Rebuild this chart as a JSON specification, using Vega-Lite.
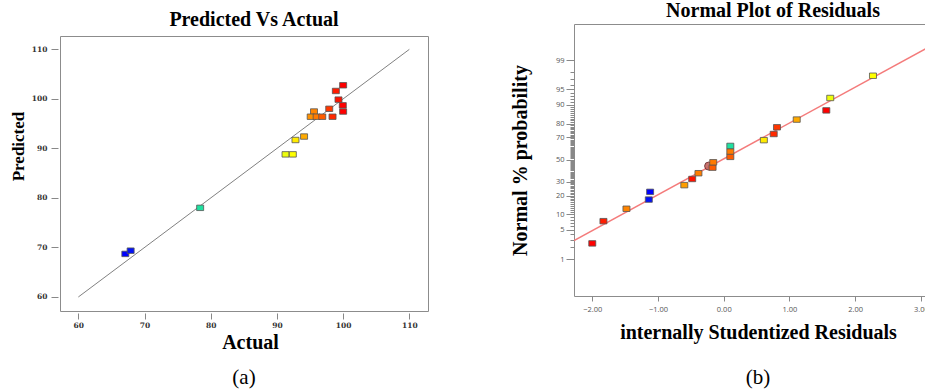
{
  "$schema": "https://vega.github.io/schema/vega-lite/v6.json",
  "background": "white",
  "padding": {"left": 8, "top": 0, "right": 0, "bottom": 0},
  "config": {
    "view": {"stroke": "#8c8c8c", "strokeWidth": 1},
    "axis": {"grid": false, "domain": false}
  },
  "spacing": 80,
  "hconcat": [
    {
      "spacing": 14,
      "vconcat": [
        {
          "spacing": 5,
          "vconcat": [
            {
              "width": 368,
              "height": 1,
              "view": {"stroke": null},
              "title": {"text": "Predicted Vs Actual", "font": "Liberation Serif", "fontSize": 20, "fontWeight": "bold", "color": "#000000", "offset": -6, "dx": 10},
              "data": {"values": []},
              "mark": {"type": "point", "opacity": 0},
              "encoding": {}
            },
            {
              "width": 368,
              "height": 275,
              "layer": [
                {
                  "data": {"values": [{"actual": 60, "predicted": 60}, {"actual": 110, "predicted": 110}]},
                  "mark": {"type": "line", "color": "#808080", "strokeWidth": 1},
                  "encoding": {
                    "x": {"field": "actual", "type": "quantitative", "scale": {"domain": [57.23, 112.82], "nice": false, "zero": false},
                      "axis": {"values": [60, 70, 80, 90, 100, 110], "title": "Actual", "titleFont": "Liberation Serif", "titleFontSize": 20, "titleFontWeight": "bold", "titleColor": "#000000", "titlePadding": 4, "titleX": 190, "labelFont": "DejaVu Serif", "labelFontWeight": "bold", "labelFontSize": 7.5, "labelColor": "#333333", "tickColor": "#888888", "tickSize": 6, "offset": 2, "labelPadding": 2}},
                    "y": {"field": "predicted", "type": "quantitative", "scale": {"domain": [57.17, 112.7], "nice": false, "zero": false},
                      "axis": {"values": [60, 70, 80, 90, 100, 110], "title": "Predicted", "titleFont": "Liberation Serif", "titleFontSize": 17, "titleFontWeight": "bold", "titleColor": "#000000", "titlePadding": 4, "titleY": 110, "labelFont": "DejaVu Serif", "labelFontWeight": "bold", "labelFontSize": 7.5, "labelColor": "#333333", "tickColor": "#888888", "tickSize": 7, "offset": 2, "labelPadding": 4}}
                  }
                },
                {
                  "data": {"values": [
                    {"actual": 67.1, "predicted": 68.7},
                    {"actual": 67.9, "predicted": 69.35},
                    {"actual": 78.4, "predicted": 78.0},
                    {"actual": 91.3, "predicted": 88.8},
                    {"actual": 92.4, "predicted": 88.8},
                    {"actual": 92.8, "predicted": 91.7},
                    {"actual": 94.1, "predicted": 92.4},
                    {"actual": 95.6, "predicted": 97.45},
                    {"actual": 95.1, "predicted": 96.4},
                    {"actual": 96.0, "predicted": 96.4},
                    {"actual": 96.85, "predicted": 96.4},
                    {"actual": 97.9, "predicted": 98.0},
                    {"actual": 98.4, "predicted": 96.4},
                    {"actual": 98.9, "predicted": 101.6},
                    {"actual": 99.3, "predicted": 99.85},
                    {"actual": 100.0, "predicted": 102.75},
                    {"actual": 99.95, "predicted": 98.7},
                    {"actual": 100.0, "predicted": 97.45}
                  ]},
                  "mark": {"type": "point", "shape": "M-1,-0.78H1V0.78H-1Z", "filled": true, "size": 49, "stroke": "#555555", "strokeWidth": 0.8, "opacity": 1},
                  "encoding": {
                    "x": {"field": "actual", "type": "quantitative"},
                    "y": {"field": "predicted", "type": "quantitative"},
                    "color": {"field": "actual", "type": "quantitative", "legend": null,
                      "scale": {"domain": [67, 78.4, 92.4, 94.1, 96, 98, 100], "range": ["#0000ff", "#20e0a0", "#ffff00", "#ffaa00", "#ff7a00", "#ff3300", "#ff0000"], "interpolate": "rgb"}}
                  }
                }
              ]
            }
          ]
        },
        {
          "width": 368,
          "height": 22,
          "view": {"stroke": null},
          "data": {"values": [{"label": "(a)"}]},
          "mark": {"type": "text", "font": "Liberation Serif", "fontSize": 21, "baseline": "middle", "color": "#000000"},
          "encoding": {"text": {"field": "label"}}
        }
      ]
    },
    {
      "spacing": 24,
      "vconcat": [
        {
          "width": 368,
          "height": 272,
          "title": {"text": "Normal Plot of Residuals", "font": "Liberation Serif", "fontSize": 20, "fontWeight": "bold", "color": "#000000", "offset": 3, "dx": 15},
          "resolve": {"axis": {"y": "independent"}},
          "layer": [
            {
              "data": {"values": [{"residual": -2.278, "z": -1.895}, {"residual": 3.32, "z": 2.801}]},
              "mark": {"type": "line", "color": "#f47b7b", "strokeWidth": 1.5, "clip": true},
              "encoding": {
                "x": {"field": "residual", "type": "quantitative", "scale": {"domain": [-2.278, 3.32], "nice": false, "zero": false},
                  "axis": {"values": [-2, -1, 0, 1, 2, 3], "format": ".2f", "title": "internally Studentized Residuals", "titleFont": "Liberation Serif", "titleFontSize": 20, "titleFontWeight": "bold", "titleColor": "#000000", "titlePadding": 10, "labelFont": "Open Sans", "labelFontSize": 7.5, "labelColor": "#555555", "tickColor": "#888888", "tickSize": 5, "labelPadding": 4}},
                "y": {"field": "z", "type": "quantitative", "scale": {"domain": [-3.19, 3.17], "nice": false, "zero": false},
                  "axis": {"orient": "left", "title": null, "labels": false, "tickSize": 4, "tickColor": "#888888",
                    "values": [-2.3263, -2.0537, -1.8808, -1.7507, -1.6449, -1.5548, -1.4758, -1.4051, -1.3408, -1.2816, -1.2265, -1.175, -1.1264, -1.0803, -1.0364, -0.9945, -0.9542, -0.9154, -0.8779, -0.8416, -0.8064, -0.7722, -0.7388, -0.7063, -0.6745, -0.6433, -0.6128, -0.5828, -0.5534, -0.5244, -0.4959, -0.4677, -0.4399, -0.4125, -0.3853, -0.3585, -0.3319, -0.3055, -0.2793, -0.2533, -0.2275, -0.2019, -0.1764, -0.151, -0.1257, -0.1004, -0.0753, -0.0502, -0.0251, 0, 0.0251, 0.0502, 0.0753, 0.1004, 0.1257, 0.151, 0.1764, 0.2019, 0.2275, 0.2533, 0.2793, 0.3055, 0.3319, 0.3585, 0.3853, 0.4125, 0.4399, 0.4677, 0.4959, 0.5244, 0.5534, 0.5828, 0.6128, 0.6433, 0.6745, 0.7063, 0.7388, 0.7722, 0.8064, 0.8416, 0.8779, 0.9154, 0.9542, 0.9945, 1.0364, 1.0803, 1.1264, 1.175, 1.2265, 1.2816, 1.3408, 1.4051, 1.4758, 1.5548, 1.6449, 1.7507, 1.8808, 2.0537, 2.3263]}}
              }
            },
            {
              "data": {"values": [{"residual": -0.23, "z": -0.152}]},
              "mark": {"type": "point", "shape": "circle", "filled": true, "size": 64, "color": "#c4645e", "stroke": "#6b2a2a", "strokeWidth": 1, "opacity": 0.9},
              "encoding": {
                "x": {"field": "residual", "type": "quantitative"},
                "y": {"field": "z", "type": "quantitative", "axis": null}
              }
            },
            {
              "data": {"values": [
                {"residual": -2.0, "z": -1.96, "actual": 100},
                {"residual": -1.83, "z": -1.44, "actual": 98.9},
                {"residual": -1.48, "z": -1.15, "actual": 95.6},
                {"residual": -1.14, "z": -0.935, "actual": 67.9},
                {"residual": -1.12, "z": -0.755, "actual": 67.1},
                {"residual": -0.6, "z": -0.598, "actual": 94.6},
                {"residual": -0.48, "z": -0.454, "actual": 99.3},
                {"residual": -0.385, "z": -0.319, "actual": 95.9},
                {"residual": -0.17, "z": -0.189, "actual": 96.85},
                {"residual": -0.16, "z": -0.063, "actual": 96.0},
                {"residual": 0.1, "z": 0.063, "actual": 96.85},
                {"residual": 0.1, "z": 0.189, "actual": 96.0},
                {"residual": 0.1, "z": 0.319, "actual": 78.4},
                {"residual": 0.61, "z": 0.454, "actual": 92.8},
                {"residual": 0.76, "z": 0.598, "actual": 98.4},
                {"residual": 0.81, "z": 0.755, "actual": 97.9},
                {"residual": 1.11, "z": 0.935, "actual": 94.1},
                {"residual": 1.56, "z": 1.15, "actual": 100},
                {"residual": 1.62, "z": 1.44, "actual": 91.3},
                {"residual": 2.27, "z": 1.96, "actual": 92.4}
              ]},
              "mark": {"type": "point", "shape": "M-1,-0.78H1V0.78H-1Z", "filled": true, "size": 49, "stroke": "#555555", "strokeWidth": 0.8, "opacity": 1},
              "encoding": {
                "x": {"field": "residual", "type": "quantitative"},
                "y": {"field": "z", "type": "quantitative",
                  "axis": {"orient": "left", "values": [-2.3263, -1.6449, -1.2816, -0.8416, -0.5244, 0, 0.5244, 0.8416, 1.2816, 1.6449, 2.3263], "labelExpr": "'' + round(cumulativeNormal(datum.value) * 100)", "title": "Normal % probability", "titleFont": "Liberation Serif", "titleFontSize": 20, "titleFontWeight": "bold", "titleColor": "#000000", "titlePadding": 25, "labelFont": "Open Sans", "labelFontSize": 7.5, "labelColor": "#555555", "tickSize": 8, "tickColor": "#888888", "labelPadding": 2}},
                "color": {"field": "actual", "type": "quantitative", "legend": null,
                  "scale": {"domain": [67, 78.4, 92.4, 94.1, 96, 98, 100], "range": ["#0000ff", "#20e0a0", "#ffff00", "#ffaa00", "#ff7a00", "#ff3300", "#ff0000"], "interpolate": "rgb"}}
              }
            }
          ]
        },
        {
          "width": 368,
          "height": 20,
          "view": {"stroke": null},
          "data": {"values": [{"label": "(b)"}]},
          "mark": {"type": "text", "font": "Liberation Serif", "fontSize": 21, "baseline": "middle", "color": "#000000"},
          "encoding": {"text": {"field": "label"}}
        }
      ]
    }
  ]
}
